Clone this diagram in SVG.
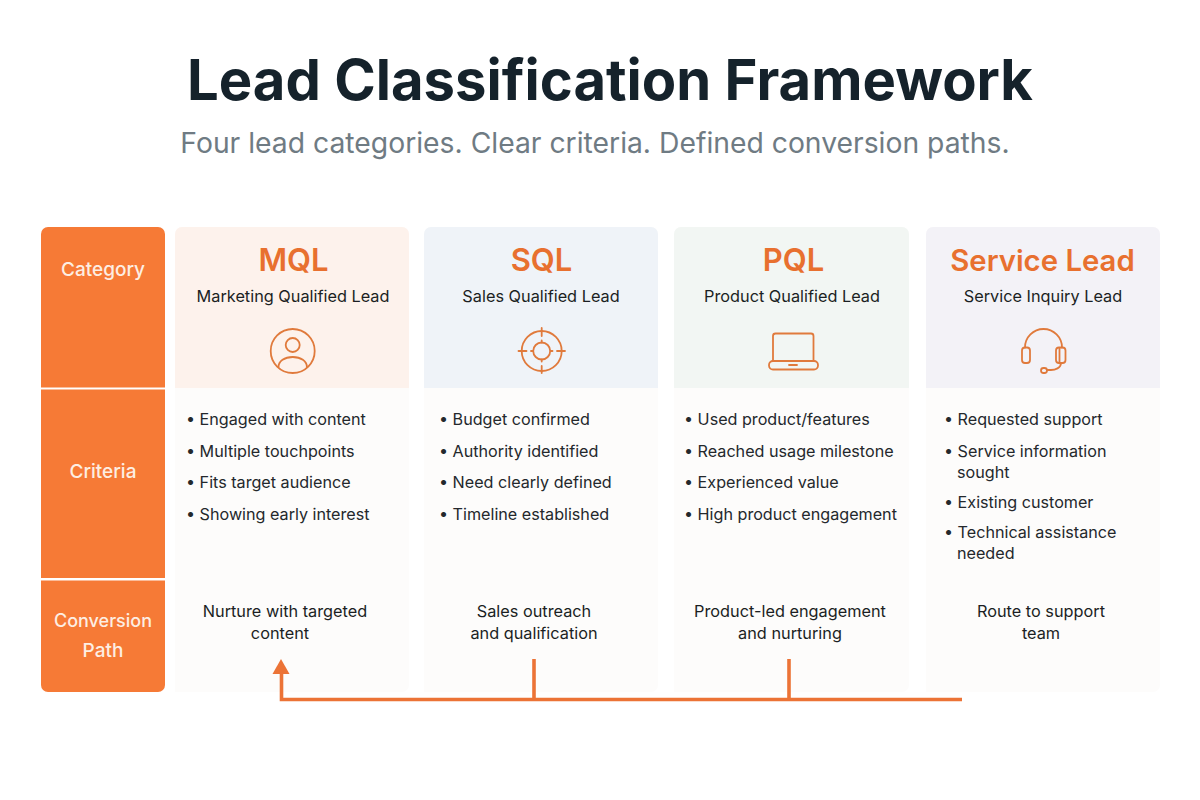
<svg xmlns="http://www.w3.org/2000/svg" width="1200" height="800" viewBox="0 0 1200 800">
<style>
text{font-family:Inter,"Noto Sans","Liberation Sans",sans-serif}
.t{font-size:56.200px;font-weight:700;fill:#15222b;text-anchor:middle}
.s{font-size:28.300px;fill:#6f7b83;text-anchor:middle}
.h{font-size:19px;font-weight:500;fill:#fdeee3;text-anchor:middle}
.c{font-size:31px;font-weight:600;fill:#e8702f;text-anchor:middle}
.n{font-size:16.300px;fill:#1b1f23;text-anchor:middle}
.b{font-size:16.150px;fill:#24282c}
.i{fill:none;stroke:#e07a3c;stroke-width:1.800;stroke-linecap:round;stroke-linejoin:round}
.k{fill:none;stroke:#ec7336;stroke-width:3.600}
.card{fill:#fdfcfb}
</style>
<rect width="1200" height="800" fill="#fff"/>
<text class="t" x="610" y="100">Lead Classification Framework</text>
<text class="s" x="595" y="153">Four lead categories. Clear criteria. Defined conversion paths.</text>
<g id="row-headers">
<path d="M41 387.500V234a7 7 0 0 1 7-7H158a7 7 0 0 1 7 7V387.500Z" fill="#f67a36"/>
<rect x="41" y="389.500" width="124" height="188.500" fill="#f67a36"/>
<path d="M41 580.500H165V685a7 7 0 0 1-7 7H48a7 7 0 0 1-7-7Z" fill="#f67a36"/>
<text class="h" x="103" y="276">Category</text>
<text class="h" x="103" y="478">Criteria</text>
<text class="h" x="103" y="627" style="font-size:18px">Conversion</text>
<text class="h" x="103" y="657">Path</text>
</g>
<g id="mql">
<path class="card" d="M175 692V234a7 7 0 0 1 7-7H402a7 7 0 0 1 7 7V685a7 7 0 0 1-7 7Z"/>
<path d="M175 388V234a7 7 0 0 1 7-7H402a7 7 0 0 1 7 7V388Z" fill="#fdf2ec"/>
<text class="c" x="293.500" y="271">MQL</text>
<text class="n" x="293" y="302">Marketing Qualified Lead</text>
<g class="i"><circle cx="292.700" cy="351" r="22"/><circle cx="292.700" cy="345" r="7"/><path d="M278.500 367c0-6 6-10 14.200-10s14.200 4 14.200 10"/></g>
<g class="b"><text x="186" y="425">• Engaged with content</text><text x="186" y="457">• Multiple touchpoints</text><text x="186" y="488">• Fits target audience</text><text x="186" y="520">• Showing early interest</text></g>
<text class="n" x="285" y="617">Nurture with targeted</text><text class="n" x="280" y="639">content</text>
</g>
<g id="sql">
<path class="card" d="M424 692V234a7 7 0 0 1 7-7H651a7 7 0 0 1 7 7V685a7 7 0 0 1-7 7Z"/>
<path d="M424 388V234a7 7 0 0 1 7-7H651a7 7 0 0 1 7 7V388Z" fill="#eff3f8"/>
<text class="c" x="541.500" y="271">SQL</text>
<text class="n" x="541" y="302">Sales Qualified Lead</text>
<g class="i"><circle cx="541.700" cy="351" r="20"/><circle cx="541.700" cy="351" r="8.500"/><path d="M541.700 328v8M541.700 366v7M518.500 351h8M557 351h8M541.700 340.500v2M541.700 359.500v2M531 351h2M550.500 351h2"/></g>
<g class="b"><text x="439" y="425">• Budget confirmed</text><text x="439" y="457">• Authority identified</text><text x="439" y="488">• Need clearly defined</text><text x="439" y="520">• Timeline established</text></g>
<text class="n" x="534" y="617">Sales outreach</text><text class="n" x="534" y="639">and qualification</text>
</g>
<g id="pql">
<path class="card" d="M674 692V234a7 7 0 0 1 7-7H902a7 7 0 0 1 7 7V685a7 7 0 0 1-7 7Z"/>
<path d="M674 388V234a7 7 0 0 1 7-7H902a7 7 0 0 1 7 7V388Z" fill="#f2f6f3"/>
<text class="c" x="793.500" y="271">PQL</text>
<text class="n" x="792" y="302">Product Qualified Lead</text>
<g class="i"><path d="M773 361V336a2.500 2.500 0 0 1 2.500-2.500H811a2.500 2.500 0 0 1 2.500 2.500V361"/><rect x="769" y="361" width="49" height="8.500" rx="4"/><path d="M789 365h8"/></g>
<g class="b"><text x="684" y="425">• Used product/features</text><text x="684" y="457">• Reached usage milestone</text><text x="684" y="488">• Experienced value</text><text x="684" y="520">• High product engagement</text></g>
<text class="n" x="790" y="617">Product-led engagement</text><text class="n" x="790" y="639">and nurturing</text>
</g>
<g id="service-lead">
<path class="card" d="M926 692V234a7 7 0 0 1 7-7H1153a7 7 0 0 1 7 7V685a7 7 0 0 1-7 7Z"/>
<path d="M926 388V234a7 7 0 0 1 7-7H1153a7 7 0 0 1 7 7V388Z" fill="#f3f2f7"/>
<text class="c" x="1042.500" y="271" style="font-size:29.300px">Service Lead</text>
<text class="n" x="1043" y="302">Service Inquiry Lead</text>
<g class="i"><path d="M1025 347.500a18.500 18.500 0 0 1 37 0"/><rect x="1022" y="347.500" width="8" height="15.500" rx="3"/><rect x="1056" y="347.500" width="9.500" height="15.500" rx="3"/><path d="M1059.500 348v15M1061 363c0 5-6 7-10 7h-4"/><rect x="1041" y="368" width="6" height="5" rx="2.500"/></g>
<g class="b"><text x="944" y="425">• Requested support</text><text x="944" y="457">• Service information</text><text x="957" y="478">sought</text><text x="944" y="508">• Existing customer</text><text x="944" y="538">• Technical assistance</text><text x="957" y="559">needed</text></g>
<text class="n" x="1041" y="617">Route to support</text><text class="n" x="1041" y="639">team</text>
</g>
<g id="connectors">
<path class="k" d="M962 699.500H281.500V672"/>
<path class="k" d="M534 659V699.500M789 659V699.500"/>
<path d="M281 659L272.500 674H289.500Z" fill="#ec7336"/>
</g>
</svg>
